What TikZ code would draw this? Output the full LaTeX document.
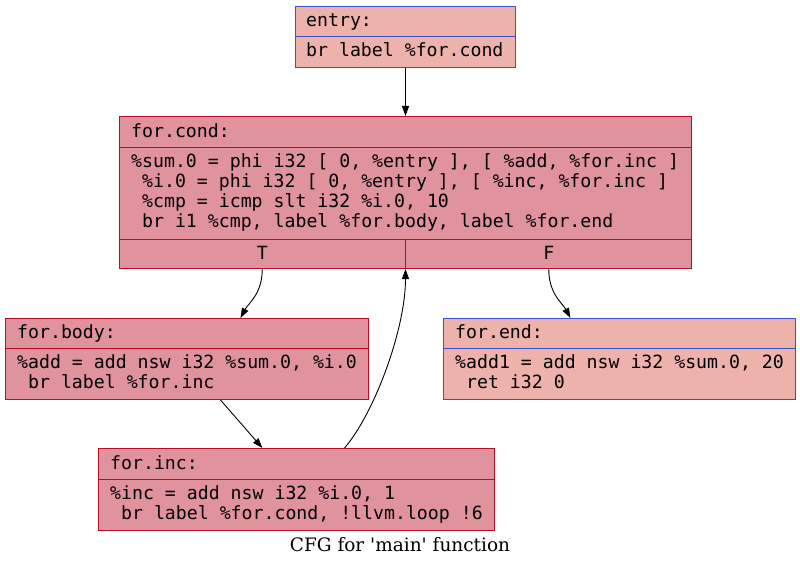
\documentclass[tikz,border=0pt]{standalone}
\usepackage{fontspec}
\setmonofont{DejaVu Sans Mono}
\newfontfamily\titlefont{DejaVu Serif}
\usetikzlibrary{arrows.meta,calc}
\definecolor{redfill}{RGB}{224,146,157}
\definecolor{redline}{RGB}{183,13,40}
\definecolor{bluefill}{RGB}{237,178,171}
\definecolor{blueline}{RGB}{61,80,195}
\begin{document}
\begin{tikzpicture}[x=1pt,y=-1pt,
  blk/.style={draw, line width=1pt, inner sep=0pt, anchor=north west},
  hot/.style={blk, fill=redfill, draw=redline},
  cold/.style={blk, fill=bluefill, draw=blueline},
  code/.style={anchor=base west, inner sep=0pt, font=\ttfamily\fontsize{18.2}{20}\selectfont},
  port/.style={anchor=base, inner sep=0pt, font=\ttfamily\fontsize{18.2}{20}\selectfont},
  hotsep/.style={draw=redline, line width=1pt},
  coldsep/.style={draw=blueline, line width=1pt},
  edge/.style={-{Triangle[length=10pt,width=7pt]}, line width=0.9pt}
]
\useasboundingbox (0,0) rectangle (800,567);

% boxes
\node[cold, minimum width=220pt, minimum height=61pt] (entry) at (295,6) {};
\node[hot, minimum width=572pt, minimum height=152pt] (cond) at (119,116) {};
\node[hot, minimum width=363pt, minimum height=81pt] (body) at (5,318) {};
\node[cold, minimum width=352pt, minimum height=81pt] (end) at (443,318) {};
\node[hot, minimum width=396pt, minimum height=82pt] (inc) at (98,448) {};

% separators
\draw[coldsep] ($(entry.north west)+(0,31)$) -- ($(entry.north east)+(0,31)$);
\draw[hotsep] ($(cond.north west)+(0,31)$) -- ($(cond.north east)+(0,31)$);
\draw[hotsep] ($(cond.south west)+(0,-30)$) -- ($(cond.south east)+(0,-30)$);
\draw[hotsep] ($(cond.south)+(0,-30)$) -- (cond.south);
\draw[hotsep] ($(body.north west)+(0,30.5)$) -- ($(body.north east)+(0,30.5)$);
\draw[coldsep] ($(end.north west)+(0,30.5)$) -- ($(end.north east)+(0,30.5)$);
\draw[hotsep] ($(inc.north west)+(0,31)$) -- ($(inc.north east)+(0,31)$);

% texts
\node[code] (entry1) at ($(entry.north west)+(11,21)$) {entry:};
\node[code] (entry2) at ($(entry.north west)+(11,51)$) {br label \%for.cond};

\node[code] (cond1) at ($(cond.north west)+(12,21)$) {for.cond:};
\node[code] (cond2) at ($(cond.north west)+(12,51)$) {\%sum.0 = phi i32 [ 0, \%entry ], [ \%add, \%for.inc ]};
\node[code] (cond3) at ($(cond.north west)+(12,71)$) {\ \%i.0 = phi i32 [ 0, \%entry ], [ \%inc, \%for.inc ]};
\node[code] (cond4) at ($(cond.north west)+(12,91)$) {\ \%cmp = icmp slt i32 \%i.0, 10};
\node[code] (cond5) at ($(cond.north west)+(12,111)$) {\ br i1 \%cmp, label \%for.body, label \%for.end};
\node[port] (condT) at ($($(cond.south west)!0.25!(cond.south east)$)+(0,-10)$) {T};
\node[port] (condF) at ($($(cond.south west)!0.75!(cond.south east)$)+(0,-10)$) {F};

\node[code] (body1) at ($(body.north west)+(12,20)$) {for.body:};
\node[code] (body2) at ($(body.north west)+(12,50)$) {\%add = add nsw i32 \%sum.0, \%i.0};
\node[code] (body3) at ($(body.north west)+(12,70)$) {\ br label \%for.inc};

\node[code] (end1) at ($(end.north west)+(12,20)$) {for.end:};
\node[code] (end2) at ($(end.north west)+(12,50)$) {\%add1 = add nsw i32 \%sum.0, 20};
\node[code] (end3) at ($(end.north west)+(12,70)$) {\ ret i32 0};

\node[code] (inc1) at ($(inc.north west)+(12,21)$) {for.inc:};
\node[code] (inc2) at ($(inc.north west)+(12,51)$) {\%inc = add nsw i32 \%i.0, 1};
\node[code] (inc3) at ($(inc.north west)+(12,71)$) {\ br label \%for.cond, !llvm.loop !6};

% edges
\draw[edge] (entry.south) -- (cond.north);
\draw[edge] ($(cond.south west)!0.25!(cond.south east)$) .. controls +(0,25) and +(8,-15) .. ($(body.north west)!0.647!(body.north east)$);
\draw[edge] ($(cond.south west)!0.75!(cond.south east)$) .. controls +(0,25) and +(-8,-15) .. ($(end.north west)!0.361!(end.north east)$);
\draw[edge] ($(body.south west)!0.592!(body.south east)$) -- ($(inc.north west)!0.414!(inc.north east)$);
\draw[edge] ($(inc.north west)!0.621!(inc.north east)$) .. controls +(30,-35) and +(0,60) .. (cond.south);

% caption
\node[anchor=base, inner sep=0pt, font=\titlefont\fontsize{18.5}{22}\selectfont] (title) at (400,551) {CFG for \char39 main\char39{} function};
\end{tikzpicture}
\end{document}
